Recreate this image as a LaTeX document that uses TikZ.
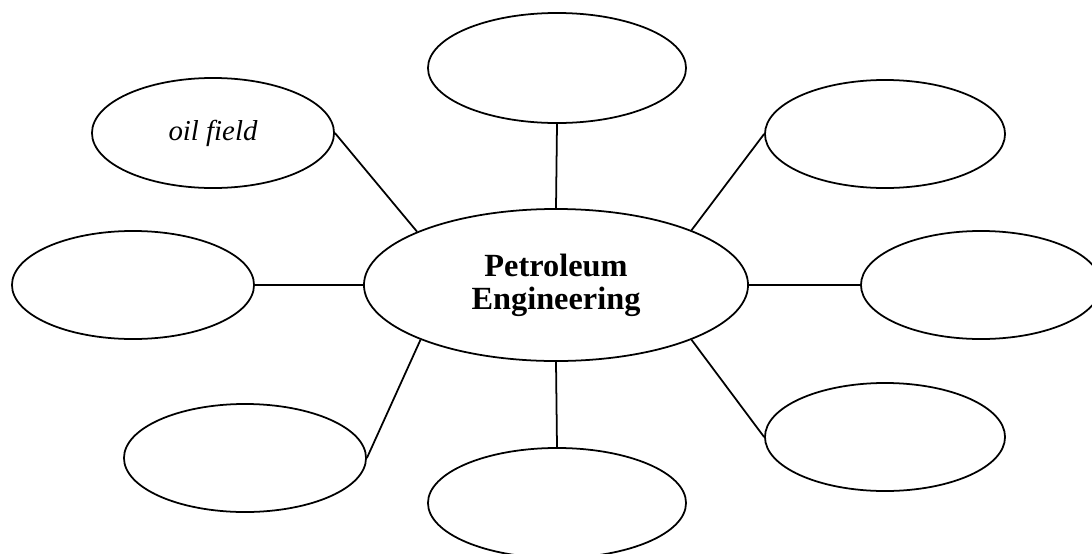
\documentclass[tikz,border=0pt]{standalone}
\usepackage{fontspec}
\setmainfont{Liberation Serif}
\usepackage{tikz}
\usetikzlibrary{shapes.geometric}

\begin{document}
\begin{tikzpicture}[x=0.025cm, y=-0.025cm,
    bubble/.style={draw, ellipse, line width=1.25pt, inner sep=0pt},
    spoke/.style={line width=1.25pt}]
\useasboundingbox (0,0) rectangle (1092,553);

% centre
\node[bubble, minimum width=9.6cm, minimum height=3.8cm, align=center,
      font=\fontsize{23}{23.5}\selectfont\bfseries] (ctr) at (556,285)
      {Petroleum\\Engineering};

% outer bubbles
\node[bubble, minimum width=6.45cm, minimum height=2.75cm] (top) at (557,68) {};
\node[bubble, minimum width=6.05cm, minimum height=2.75cm,
      font=\fontsize{20.5}{24}\selectfont\itshape] (tl) at (213,133) {oil field};
\node[bubble, minimum width=6cm, minimum height=2.7cm] (tr) at (885,134) {};
\node[bubble, minimum width=6.05cm, minimum height=2.7cm] (lft) at (133,285) {};
\node[bubble, minimum width=6cm, minimum height=2.7cm] (rgt) at (981,285) {};
\node[bubble, minimum width=6.05cm, minimum height=2.7cm] (bl) at (245,458) {};
\node[bubble, minimum width=6cm, minimum height=2.7cm] (br) at (885,437) {};
\node[bubble, minimum width=6.45cm, minimum height=2.75cm] (bot) at (557,503) {};

% spokes
\draw[spoke] (ctr.north) -- (top.south);
\draw[spoke] (ctr.south) -- (bot.north);
\draw[spoke] (ctr.west) -- (lft.east);
\draw[spoke] (ctr.east) -- (rgt.west);
\draw[spoke] (ctr.159) -- (tl.east);
\draw[spoke] (ctr.22) -- (tr.west);
\draw[spoke] (ctr.202) -- (bl.east);
\draw[spoke] (ctr.338) -- (br.west);

\end{tikzpicture}
\end{document}
